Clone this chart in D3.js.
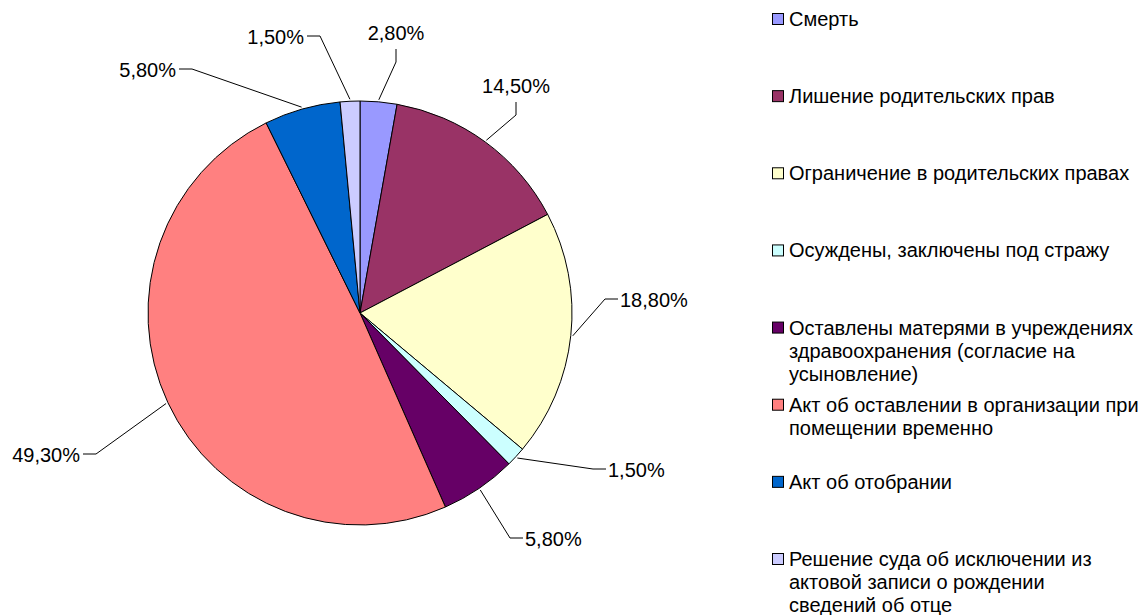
<!DOCTYPE html>
<html lang="ru">
<head>
<meta charset="utf-8">
<script src="https://cdn.jsdelivr.net/npm/d3@7"></script>
<style>
  body { margin: 0; background: #fff; }
  text { font-family: "Liberation Sans", Arial, sans-serif; fill: #000; }
</style>
</head>
<body>
<script>
  // slices, clockwise from 12 o'clock
  var categories = [
    "Смерть",
    "Лишение родительских прав",
    "Ограничение в родительских правах",
    "Осуждены, заключены под стражу",
    "Оставлены матерями в учреждениях здравоохранения (согласие на усыновление)",
    "Акт об оставлении в организации при помещении временно",
    "Акт об отобрании",
    "Решение суда об исключении из актовой записи о рождении сведений об отце"
  ];
  // legend text as it wraps in the picture
  var legendLines = [
    ["Смерть"],
    ["Лишение родительских прав"],
    ["Ограничение в родительских правах"],
    ["Осуждены, заключены под стражу"],
    ["Оставлены матерями в учреждениях", "здравоохранения (согласие на", "усыновление)"],
    ["Акт об оставлении в организации при", "помещении временно"],
    ["Акт об отобрании"],
    ["Решение суда об исключении из", "актовой записи о рождении", "сведений об отце"]
  ];
  var values = [2.8, 14.5, 18.8, 1.5, 5.8, 49.3, 5.8, 1.5];
  var colors = ["#9999FF", "#993366", "#FFFFCC", "#CCFFFF", "#660066", "#FF8080", "#0066CC", "#CCCCFF"];

  // leader line elbows and which way the label sits
  var labelElbow = [
    [396, 62, "up"], [516, 115, "up"], [605, 299, "right"], [593, 469, "right"],
    [510, 538, "right"], [96, 454, "left"], [192, 69, "left"], [320, 36, "left"]
  ];

  var w = 1141, h = 615;
  var cx = 360, cy = 313, R = 212;
  var fmt = function(v) { return v.toFixed(2).replace(".", ",") + "%"; };

  var svg = d3.select("body").append("svg")
    .attr("width", w)
    .attr("height", h);

  var pie = d3.pie().sort(null).value(d => d);
  var arcs = pie(values);
  var arc = d3.arc().innerRadius(0).outerRadius(R);
  var edge = d3.arc().innerRadius(R + 2).outerRadius(R + 2);

  var g = svg.append("g").attr("transform", "translate(" + cx + "," + cy + ")");
  g.selectAll("path.slice")
    .data(arcs)
    .enter()
    .append("path")
    .attr("class", "slice")
    .attr("d", arc)
    .attr("fill", (d, i) => colors[i])
    .attr("stroke", "#000")
    .attr("stroke-width", 1);

  // leaders + labels
  arcs.forEach(function(d, i) {
    var p = edge.centroid(d);
    var sx = cx + p[0], sy = cy + p[1];
    var e = labelElbow[i];
    var ex = e[0], ey = e[1], tx, ty;
    if (e[2] == "up") { tx = ex; ty = ey - 13; }
    else if (e[2] == "right") { tx = ex + 13; ty = ey; }
    else { tx = ex - 13; ty = ey; }
    svg.append("polyline")
      .attr("points", [[sx, sy], [ex, ey], [tx, ty]].map(q => q.join(",")).join(" "))
      .attr("fill", "none")
      .attr("stroke", "#000")
      .attr("stroke-width", 1);
    var t = svg.append("text")
      .attr("font-size", 20)
      .text(fmt(values[i]));
    if (e[2] == "up") {
      t.attr("x", tx).attr("y", ty - 16).attr("dy", "0.35em").attr("text-anchor", "middle");
    } else if (e[2] == "right") {
      t.attr("x", tx + 2).attr("y", ty + 1).attr("dy", "0.35em").attr("text-anchor", "start");
    } else {
      t.attr("x", tx - 3).attr("y", ty + 1).attr("dy", "0.35em").attr("text-anchor", "end");
    }
  });

  // legend
  var ly = d3.scaleLinear().domain([0, categories.length - 1]).range([19, 559]);
  var legend = svg.append("g").attr("id", "legend");
  categories.forEach(function(c, i) {
    var y0 = ly(i);
    legend.append("rect")
      .attr("x", 772.5)
      .attr("y", y0 - 5.5)
      .attr("width", 11)
      .attr("height", 11)
      .attr("fill", colors[i])
      .attr("stroke", "#000")
      .attr("stroke-width", 1);
    var t = legend.append("text")
      .attr("x", 789)
      .attr("y", y0)
      .attr("font-size", 20);
    legendLines[i].forEach(function(line, k) {
      t.append("tspan")
        .attr("x", 789)
        .attr("y", y0 + k * 23)
        .attr("dy", "0.35em")
        .text(line);
    });
  });
</script>
</body>
</html>
